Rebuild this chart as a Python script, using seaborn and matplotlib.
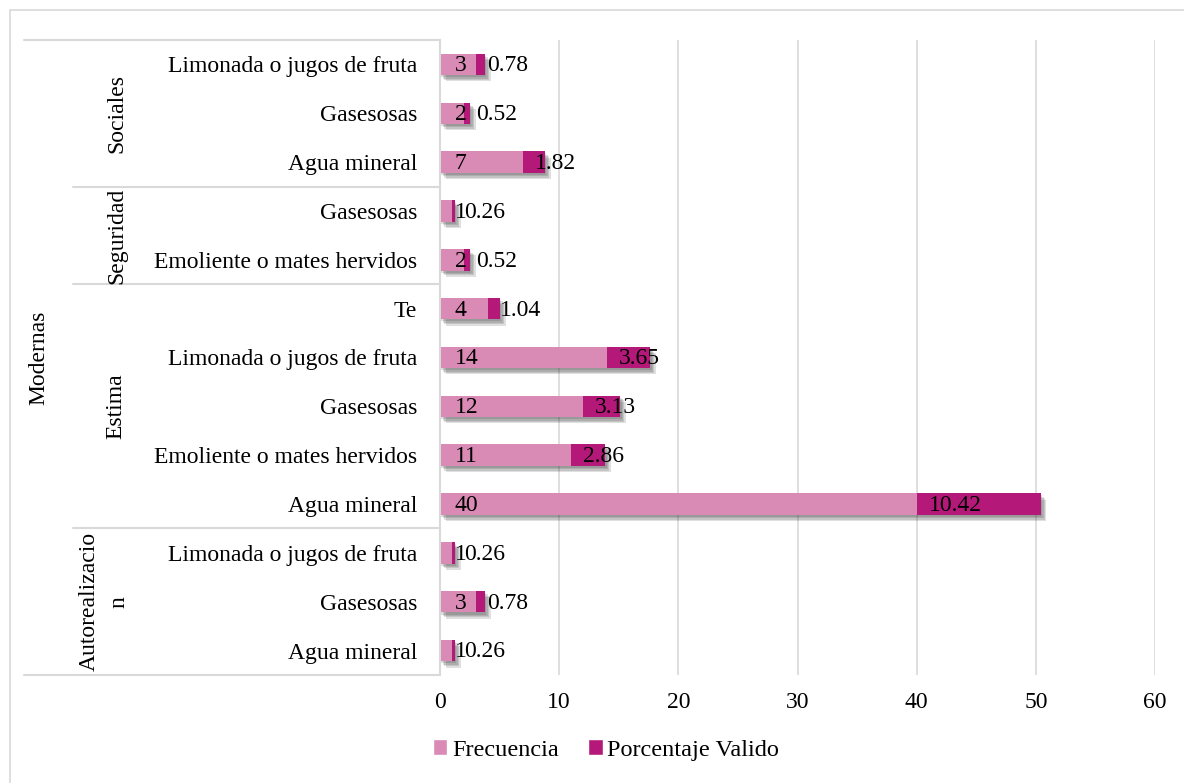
import matplotlib
matplotlib.use("Agg")
import matplotlib.pyplot as plt
import matplotlib.patheffects as pe
from matplotlib.lines import Line2D
from matplotlib.patches import Patch, Rectangle
from matplotlib.transforms import blended_transform_factory
import seaborn as sns
import pandas as pd

# Beverage consumption by motivation group (top to bottom)
groups = ["Sociales", "Sociales", "Sociales",
          "Seguridad", "Seguridad",
          "Estima", "Estima", "Estima", "Estima", "Estima",
          "Autorealizacion", "Autorealizacion", "Autorealizacion"]
items = ["Limonada o jugos de fruta", "Gasesosas", "Agua mineral",
         "Gasesosas", "Emoliente o mates hervidos",
         "Te", "Limonada o jugos de fruta", "Gasesosas",
         "Emoliente o mates hervidos", "Agua mineral",
         "Limonada o jugos de fruta", "Gasesosas", "Agua mineral"]
frecuencia = [3, 2, 7, 1, 2, 4, 14, 12, 11, 40, 1, 3, 1]
porcentaje = [0.78, 0.52, 1.82, 0.26, 0.52, 1.04, 3.65, 3.13, 2.86, 10.42, 0.26, 0.78, 0.26]
x_ticks = [0, 10, 20, 30, 40, 50, 60]

LIGHT = "#D98AB5"
DARK = "#B4197A"
GRID = "#D9D9D9"
FS = 17

sns.set_style("white")
plt.rcParams["font.family"] = ["Liberation Serif", "DejaVu Serif"]
plt.rcParams["text.color"] = "black"
plt.rcParams["xtick.color"] = "black"
plt.rcParams["ytick.color"] = "black"

df = pd.DataFrame({
    "key": [f"{g}|{i}" for g, i in zip(groups, items)],
    "item": items,
    "Frecuencia": frecuencia,
    "Porcentaje": porcentaje,
})
df["total"] = df["Frecuencia"] + df["Porcentaje"]
order = list(df["key"])

fig = plt.figure(figsize=(11.84, 7.83), dpi=100)
ax = fig.add_axes([440 / 1184, 1 - 675 / 783, (1155 - 440) / 1184, (675 - 40) / 783])

# Stacked bars: full length in dark, frequency part on top in light
sns.barplot(data=df, x="total", y="key", order=order, color=DARK, saturation=1,
            width=0.44, orient="h", ax=ax, linewidth=0)
soft_shadow = [pe.SimplePatchShadow(offset=(dx, -dy), shadow_rgbFace="#222222", alpha=0.14)
               for dx, dy in [(1, 1.5), (2, 2.5), (3, 3.5), (4, 4.5)]]
for p in ax.patches:
    p.set_path_effects(soft_shadow + [pe.Normal()])
sns.barplot(data=df, x="Frecuencia", y="key", order=order, color=LIGHT, saturation=1,
            width=0.44, orient="h", ax=ax, linewidth=0)

ax.set_xlim(0, 60)
ax.set_ylim(12.5, -0.5)
ax.set_xticks(x_ticks)
ax.set_xticklabels([str(t) for t in x_ticks], fontsize=FS)
ax.set_yticks(range(len(items)))
ax.set_yticklabels(items, fontsize=FS)
ax.tick_params(axis="both", length=0)
ax.tick_params(axis="y", pad=16.5)
ax.tick_params(axis="x", pad=12)
ax.set_xlabel("")
ax.set_ylabel("")
ax.xaxis.grid(True, color=GRID, linewidth=1.2)
ax.set_axisbelow(True)
for s in ["top", "right", "bottom"]:
    ax.spines[s].set_visible(False)
ax.spines["left"].set_color(GRID)
ax.spines["left"].set_linewidth(1.5)

# Value labels
for i, (f, pc) in enumerate(zip(frecuencia, porcentaje)):
    ax.annotate(f"{f}", (0, i), xytext=(10.5, -1), textcoords="offset points",
                ha="left", va="center", fontsize=FS, color="black")
    ax.annotate(f"{pc:.2f}", (f, i), xytext=(8.5, -1), textcoords="offset points",
                ha="left", va="center", fontsize=FS, color="black")

# Hierarchical category labels on the left
tr = blended_transform_factory(fig.transFigure, ax.transData)
x_axis = 440 / 1184
for y, x0 in [(-0.5, 24), (2.5, 73), (4.5, 73), (9.5, 73), (12.5, 24)]:
    fig.add_artist(Line2D([x0 / 1184, x_axis], [y, y], transform=tr, color=GRID,
                          linewidth=1.5, clip_on=False))

for label, y, x in [("Sociales", 1, 117), ("Seguridad", 3.5, 117),
                    ("Estima", 7, 116), ("Autorealizacio\nn", 11, 104)]:
    fig.text(x / 1184, y, label, transform=tr, rotation=90, ha="center", va="center",
             fontsize=FS, multialignment="center", linespacing=1.5)
fig.text(39 / 1184, 6, "Modernas", transform=tr, rotation=90, ha="center", va="center",
         fontsize=FS)

# Outer chart border
fig.add_artist(Rectangle((10 / 1184, -0.01), 1.2, 1 - 10 / 783 + 0.01, transform=fig.transFigure,
                         fill=False, edgecolor=GRID, linewidth=1.2))

handles = [Patch(facecolor=LIGHT, label="Frecuencia"),
           Patch(facecolor=DARK, label="Porcentaje Valido")]
fig.legend(handles=handles, loc="center", bbox_to_anchor=(606 / 1184, 1 - 750 / 783),
           ncol=2, frameon=False, fontsize=17.5, handlelength=0.6, handleheight=0.6,
           handletextpad=0.2, columnspacing=1.2)

fig.savefig("out.png", dpi=100)
